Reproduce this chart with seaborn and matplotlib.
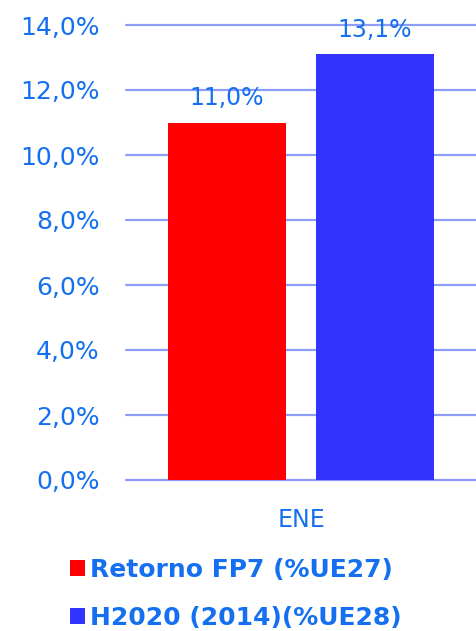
import pandas as pd
import matplotlib.pyplot as plt
import seaborn as sns
from matplotlib.ticker import FuncFormatter

# values
categories = ["ENE", "ENE"]
series = ["Retorno FP7 (%UE27)", "H2020 (2014)(%UE28)"]
values = [11.0, 13.1]
bar_colors = ["#ff0000", "#3333ff"]
yticks = [0, 2, 4, 6, 8, 10, 12, 14]

TEXT = "#1470f0"
GRID = "#8c9cf8"

df = pd.DataFrame({"cat": categories, "serie": series, "valor": values})

sns.set_theme(style="white")
plt.rcParams['font.family'] = ['DejaVu Sans']

fig = plt.figure(figsize=(4.76, 6.31), dpi=100)
ax = fig.add_axes([126 / 476, 1 - 480 / 631, 1 - 126 / 476, (480 - 25) / 631])

sns.barplot(data=df, x="cat", y="valor", hue="serie", palette=bar_colors,
            width=0.846, gap=0.2, saturation=1, linewidth=0, legend=True,
            ax=ax, zorder=3)

ax.set_ylim(0, 14)
ax.set_xlim(-0.5, 0.5)
ax.set_yticks(yticks)
ax.yaxis.set_major_formatter(FuncFormatter(lambda v, p: f"{v:.1f}%".replace(".", ",")))
ax.grid(axis="y", color=GRID, linewidth=1.6, zorder=0)
for gl in ax.yaxis.get_gridlines():
    gl.set_clip_on(False)
for s in ax.spines.values():
    s.set_visible(False)
ax.tick_params(axis="y", length=0, pad=19, labelsize=18, labelcolor=TEXT)
ax.tick_params(axis="x", length=0, pad=20, labelsize=17, labelcolor=TEXT)
ax.set_xlabel("")
ax.set_ylabel("")

for cont in ax.containers:
    ax.bar_label(cont, labels=[f"{v:.1f}%".replace(".", ",") for v in cont.datavalues],
                 padding=9, fontsize=17, color=TEXT)

handles, labels = ax.get_legend_handles_labels()
ax.get_legend().remove()
leg = fig.legend(handles, labels, loc="upper left", bbox_to_anchor=(47 / 476, 1 - 535 / 631),
                 frameon=False, handlelength=0.62, handleheight=0.62, handletextpad=0.22,
                 labelspacing=0.98, prop={"weight": "bold", "size": 18})
for t in leg.get_texts():
    t.set_color(TEXT)

fig.savefig("out.png", dpi=100)
